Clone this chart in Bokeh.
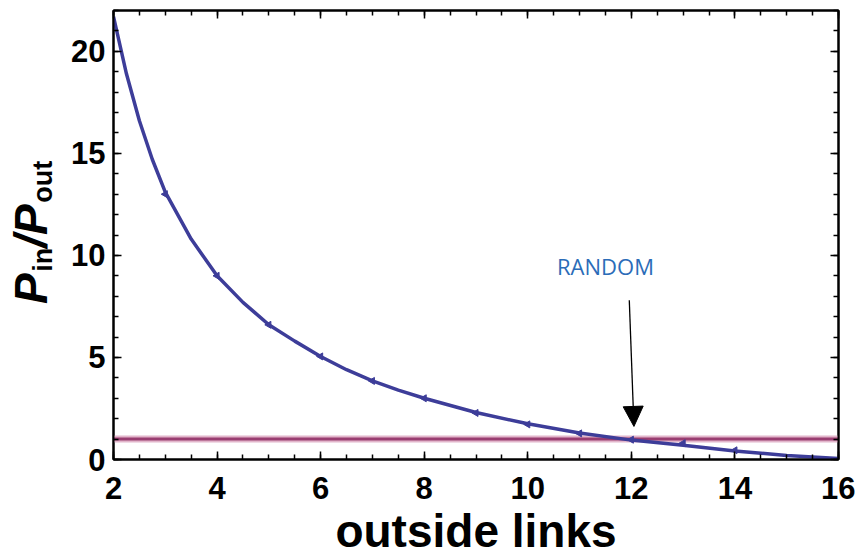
import math
from bokeh.plotting import figure
from bokeh.models import (Range1d, LinearAxis, SingleIntervalTicker, Label, Arrow,
                          NormalHead, Title)
from bokeh.embed import file_html
from bokeh.resources import INLINE

# ---- data ----
fit_x = [2, 2.25, 2.5, 2.75, 3, 3.5, 4, 4.5, 5, 5.5, 6, 6.5, 7, 7.5, 8, 9, 10, 11, 12, 13, 14, 15, 16]
fit_y = [21.7, 18.9, 16.6, 14.7, 13.1, 10.8, 9.0, 7.7, 6.6, 5.8, 5.05, 4.4, 3.85, 3.4, 3.0, 2.3, 1.75,
         1.3, 0.95, 0.7, 0.42, 0.2, 0.05]
pts_x = [3, 4, 5, 6, 7, 8, 9, 10, 11, 12, 13, 14]
pts_y = [13.0, 9.0, 6.6, 5.05, 3.85, 3.0, 2.28, 1.72, 1.28, 0.97, 0.8, 0.45]
random_level = 1.0
arrow_start = (11.96, 7.8)
arrow_end = (12.05, 1.62)
random_label_pos = (11.5, 9.5)
x_title = "outside links"
NB = "\u00a0"
y_title_main = "\n" + "P" + NB * 2 + "/P" + NB * 3          # P_in / P_out : main letters
y_title_sub = NB * 5 + "in" + NB * 6 + "out"              # subscripts

W, H = 855, 560
FONT = "'Liberation Sans', Arial, sans-serif"
BLUE = "#3d3d99"
PINK = "#993d71"

p = figure(width=W, height=H, output_backend="svg", toolbar_location=None,
           x_range=Range1d(2, 16), y_range=Range1d(0, 22),
           min_border_left=113, min_border_right=17, min_border_top=10, min_border_bottom=101,
           x_axis_type=None, y_axis_type=None)
p.grid.visible = False
p.outline_line_color = "black"
p.outline_line_width = 2
p.background_fill_color = "white"
p.border_fill_color = "white"


def style_axis(ax, labels=True, standoff=8):
    ax.axis_line_color = "black"
    ax.axis_line_width = 2
    ax.major_tick_in = 8
    ax.major_tick_out = 0
    ax.minor_tick_in = 5
    ax.minor_tick_out = 0
    ax.major_tick_line_color = "black"
    ax.minor_tick_line_color = "black"
    ax.major_tick_line_width = 1.5
    ax.minor_tick_line_width = 1.5
    if labels:
        ax.major_label_text_font = FONT
        ax.major_label_text_font_size = "31px"
        ax.major_label_text_font_style = "bold"
        ax.major_label_text_color = "black"
        ax.major_label_standoff = standoff
    else:
        ax.major_label_text_font_size = "0px"
        ax.major_label_standoff = 0
        ax.major_label_text_color = None


xt = SingleIntervalTicker(interval=2, num_minor_ticks=4)
yt = SingleIntervalTicker(interval=5, num_minor_ticks=5)

xb = LinearAxis(ticker=xt)
style_axis(xb, True, standoff=17)
xb.axis_label = x_title
xb.axis_label_text_font = FONT
xb.axis_label_text_font_size = "46px"
xb.axis_label_text_font_style = "bold"
xb.axis_label_text_color = "black"
xb.axis_label_standoff = 3
p.add_layout(xb, "below")

xa = LinearAxis(ticker=xt)
style_axis(xa, False)
p.add_layout(xa, "above")

yl = LinearAxis(ticker=yt)
style_axis(yl, True, standoff=8)
yl.axis_label = y_title_sub
yl.axis_label_text_font = FONT
yl.axis_label_text_font_size = "27px"
yl.axis_label_text_font_style = "bold"
yl.axis_label_text_color = "black"
yl.axis_label_standoff = 10
p.add_layout(yl, "left")

yr = LinearAxis(ticker=yt)
style_axis(yr, False)
p.add_layout(yr, "right")

p.add_layout(Title(text=y_title_main, align="center", vertical_align="middle", standoff=-64,
                   text_font=FONT, text_font_size="46px", text_font_style="bold italic",
                   text_line_height=0.25, text_color="black"), "left")

# random level line (halo + core)
p.line(x=[2, 16], y=[random_level, random_level], line_color="#e2b6cb", line_width=7)
p.line(x=[2, 16], y=[random_level, random_level], line_color=PINK, line_width=3)

# fitted curve and data points
p.line(x=fit_x, y=fit_y, line_color=BLUE, line_width=3.5, line_join="round")
p.scatter(x=pts_x, y=pts_y, marker="triangle", size=7, angle=math.pi / 2,
          fill_color=BLUE, line_color=BLUE)

# annotation
p.add_layout(Arrow(x_start=arrow_start[0], y_start=arrow_start[1],
                   x_end=arrow_end[0], y_end=arrow_end[1],
                   line_color="black", line_width=1.3,
                   end=NormalHead(size=20, fill_color="black", line_color="black")))
p.add_layout(Label(x=random_label_pos[0], y=random_label_pos[1], text="RANDOM",
                   text_font="Open Sans", text_font_size="22px", text_color="#2b6cb8",
                   text_align="center", text_baseline="middle"))

open("out.html", "w").write(file_html(p, INLINE))
